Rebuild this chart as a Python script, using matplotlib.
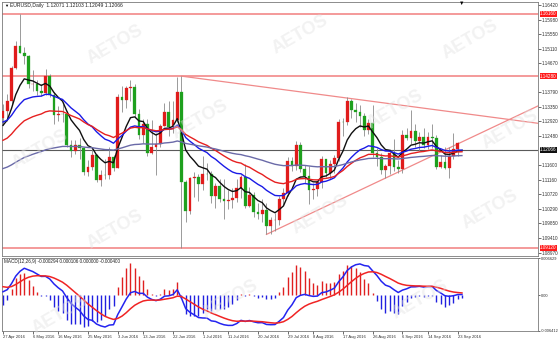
import numpy as np
import matplotlib.pyplot as plt
from matplotlib.transforms import blended_transform_factory

# EURUSD daily, 27 Apr 2016 .. 23 Sep 2016 (+ the bar just opened)
opens = [1.1301, 1.1322, 1.1352, 1.1453, 1.1518, 1.1498, 1.1488, 1.1404, 1.1404, 1.1383,
         1.1377, 1.1427, 1.1370, 1.1310, 1.1314, 1.1313, 1.1220, 1.1204, 1.1222, 1.1211,
         1.1141, 1.1154, 1.1190, 1.1116, 1.1132, 1.1131, 1.1186, 1.1153, 1.1366, 1.1356,
         1.1393, 1.1395, 1.1314, 1.1250, 1.1285, 1.1197, 1.1216, 1.1225, 1.1278, 1.1320,
         1.1274, 1.1297, 1.1380, 1.1111, 1.1022, 1.1121, 1.1124, 1.1103, 1.1135, 1.1134,
         1.1068, 1.1097, 1.1058, 1.1053, 1.1055, 1.1060, 1.1092, 1.1125, 1.1037, 1.1071,
         1.1019, 1.1014, 1.1026, 1.0976, 1.0995, 1.0995, 1.1059, 1.1077, 1.1172, 1.1159,
         1.1222, 1.1148, 1.1129, 1.1085, 1.1088, 1.1109, 1.1180, 1.1136, 1.1163, 1.1182,
         1.1290, 1.1289, 1.1352, 1.1326, 1.1319, 1.1307, 1.1265, 1.1287, 1.1197, 1.1184,
         1.1145, 1.1158, 1.1197, 1.1156, 1.1149, 1.1252, 1.1241, 1.1262, 1.1233, 1.1244,
         1.1222, 1.1245, 1.1243, 1.1155, 1.1170, 1.1151, 1.1188, 1.1210, 1.12071]
highs = [1.1344, 1.1375, 1.1460, 1.1535, 1.1616, 1.1517, 1.1491, 1.1446, 1.1417, 1.1404,
         1.1448, 1.1434, 1.1381, 1.1337, 1.1345, 1.1323, 1.1237, 1.1237, 1.1241, 1.1216,
         1.1175, 1.1211, 1.1195, 1.1147, 1.1179, 1.1216, 1.1190, 1.1374, 1.1397, 1.1398,
         1.1416, 1.1405, 1.1329, 1.1298, 1.1299, 1.1297, 1.1256, 1.1285, 1.1347, 1.1352,
         1.1353, 1.1425, 1.1427, 1.1115, 1.1125, 1.1139, 1.1135, 1.1187, 1.1168, 1.1144,
         1.1108, 1.1120, 1.1119, 1.1087, 1.1093, 1.1120, 1.1130, 1.1164, 1.1096, 1.1081,
         1.1046, 1.1058, 1.1045, 1.1004, 1.1016, 1.1067, 1.1091, 1.1186, 1.1185, 1.1234,
         1.1229, 1.1162, 1.1157, 1.1108, 1.1113, 1.1188, 1.1180, 1.1176, 1.1192, 1.1300,
         1.1301, 1.1366, 1.1360, 1.1346, 1.1341, 1.1317, 1.1300, 1.1342, 1.1212, 1.1196,
         1.1165, 1.1210, 1.1240, 1.1177, 1.1266, 1.1273, 1.1327, 1.1285, 1.1259, 1.1272,
         1.1259, 1.1283, 1.1250, 1.1191, 1.1214, 1.1215, 1.1257, 1.1229, 1.12103]
lows = [1.1282, 1.1293, 1.1345, 1.1448, 1.1497, 1.1464, 1.1393, 1.1383, 1.1372, 1.1367,
        1.1370, 1.1364, 1.1285, 1.1293, 1.1290, 1.1214, 1.1186, 1.1194, 1.1178, 1.1130,
        1.1128, 1.1146, 1.1110, 1.1099, 1.1120, 1.1120, 1.1143, 1.1152, 1.1319, 1.1332,
        1.1354, 1.1306, 1.1239, 1.1228, 1.1189, 1.1193, 1.1131, 1.1214, 1.1278, 1.1249,
        1.1257, 1.1290, 1.0912, 1.0990, 1.1012, 1.1063, 1.1052, 1.1085, 1.1115, 1.1045,
        1.1030, 1.1048, 1.0999, 1.1028, 1.1030, 1.1048, 1.1061, 1.1032, 1.1035, 1.1004,
        1.0998, 1.0989, 1.0953, 1.0952, 1.0962, 1.0980, 1.1041, 1.1066, 1.1144, 1.1146,
        1.1139, 1.1108, 1.1044, 1.1059, 1.1067, 1.1093, 1.1124, 1.1118, 1.1137, 1.1173,
        1.1247, 1.1281, 1.1301, 1.1291, 1.1276, 1.1247, 1.1253, 1.1185, 1.1157, 1.1133,
        1.1122, 1.1135, 1.1143, 1.1137, 1.1136, 1.1235, 1.1223, 1.1214, 1.1202, 1.1213,
        1.1209, 1.1213, 1.1150, 1.1153, 1.1148, 1.1123, 1.1180, 1.1189, 1.12049]
closes = [1.1322, 1.1352, 1.1453, 1.1518, 1.1498, 1.1488, 1.1404, 1.1404, 1.1383, 1.1377,
          1.1427, 1.1370, 1.1310, 1.1314, 1.1313, 1.1220, 1.1204, 1.1222, 1.1211, 1.1141,
          1.1154, 1.1190, 1.1116, 1.1132, 1.1131, 1.1186, 1.1153, 1.1366, 1.1356, 1.1393,
          1.1395, 1.1314, 1.1250, 1.1285, 1.1197, 1.1216, 1.1225, 1.1278, 1.1320, 1.1274,
          1.1297, 1.1380, 1.1111, 1.1022, 1.1121, 1.1124, 1.1103, 1.1135, 1.1134, 1.1068,
          1.1097, 1.1058, 1.1053, 1.1055, 1.1060, 1.1092, 1.1125, 1.1037, 1.1071, 1.1019,
          1.1014, 1.1026, 1.0976, 1.0995, 1.0995, 1.1059, 1.1077, 1.1172, 1.1159, 1.1222,
          1.1148, 1.1129, 1.1085, 1.1088, 1.1109, 1.1180, 1.1136, 1.1163, 1.1182, 1.1290,
          1.1289, 1.1352, 1.1326, 1.1319, 1.1307, 1.1265, 1.1287, 1.1197, 1.1184, 1.1145,
          1.1158, 1.1197, 1.1156, 1.1149, 1.1252, 1.1241, 1.1262, 1.1233, 1.1244, 1.1222,
          1.1245, 1.1243, 1.1155, 1.1170, 1.1151, 1.1188, 1.1210, 1.1226, 1.12066]

date_pos = [0, 7, 13, 20, 27, 33, 40, 47, 53, 60, 67, 73, 80, 87, 94, 100, 107]
date_labels = ['27 Apr 2016', '6 May 2016', '16 May 2016', '25 May 2016', '3 Jun 2016',
               '13 Jun 2016', '22 Jun 2016', '1 Jul 2016', '11 Jul 2016', '20 Jul 2016',
               '29 Jul 2016', '8 Aug 2016', '17 Aug 2016', '26 Aug 2016', '6 Sep 2016',
               '14 Sep 2016', '23 Sep 2016']

price_ticks = [1.16420, 1.15980, 1.15550, 1.15110, 1.14670, 1.13790, 1.13350, 1.12920,
               1.12480, 1.11600, 1.11160, 1.10720, 1.10290, 1.09850, 1.09410, 1.08970]
levels = [1.16160, 1.14280, 1.09120]
last_price = 1.12066

# trend lines (bar index, price)
down_bars = [42, 126]
down_prices = [1.1428, 1.1286]
up_bars = [62, 126]
up_prices = [1.0952, 1.1339]

# moving average periods and their values at the first bar
ma_periods = [8, 21, 34, 89]
ma_start = [1.1280, 1.1290, 1.1235, 1.1150]
ma_colors = ['#101010', '#1a1ae6', '#e62020', '#6a6aa8']

macd_ticks = [0.006629, 0.0, -0.006412]
macd_tick_labels = ['0.006629', '0.00', '-0.006412']
ema12_start, ema26_start, signal_start = 1.1300, 1.1294, 0.0015
hist_scale = 2.0   # the indicator draws its histogram larger than the lines


def ema(vals, n, start):
    k = 2.0 / (n + 1)
    out = [start]
    for v in vals[1:]:
        out.append(out[-1] + k * (v - out[-1]))
    return np.array(out)


plt.rcParams['font.family'] = ['Liberation Sans', 'DejaVu Sans']
W, H = 560, 340
fig = plt.figure(figsize=(5.6, 3.4), dpi=100)


def px(l, t, r, b):
    return [l / W, 1 - b / H, (r - l) / W, (b - t) / H]


ax = fig.add_axes(px(2, 2, 538, 256))
ax2 = fig.add_axes(px(2, 258, 538, 331))

o = np.array(opens)
h = np.array(highs)
lo = np.array(lows)
c = np.array(closes)
x = np.arange(len(c))

# candles
ax.vlines(x, lo, h, color='#8a8a8a', lw=0.6, zorder=3)
up = c >= o
cols = np.where(up, '#e01c1c', '#1ea01e')
bottom = np.minimum(o, c)
height = np.maximum(np.abs(c - o), 0.00005)
ax.bar(x, height, bottom=bottom, width=0.62, color=cols, edgecolor=cols, lw=0.2, zorder=4)

for p, col, s in zip(ma_periods, ma_colors, ma_start):
    ax.plot(x, ema(c, p, s), color=col, lw=1.0, zorder=5)

for lvl in levels:
    ax.axhline(lvl, color='#f49a9a', lw=1.4, zorder=2)
ax.axhline(last_price, color='#5a5a5a', lw=0.8, zorder=2)
ax.plot(down_bars, down_prices, color='#f08a8a', lw=0.9, zorder=2)
ax.plot(up_bars, up_prices, color='#f08a8a', lw=0.9, zorder=2)

ax.set_xlim(-0.24, 125.9)
ax.set_ylim(1.0887, 1.1651)
ax.set_xticks([])
ax.yaxis.tick_right()
ax.set_yticks(price_ticks)
ax.set_yticklabels(['%.5f' % t for t in price_ticks], fontsize=3.3)
ax.tick_params(axis='y', length=2, width=0.5, pad=1, colors='#303030')

trans = blended_transform_factory(ax.transAxes, ax.transData)
for lvl in levels:
    ax.text(1.004, lvl, '%.5f' % lvl, transform=trans, fontsize=3.3, color='white',
            va='center', ha='left', clip_on=False, zorder=10,
            bbox=dict(boxstyle='square,pad=0.12', fc='#ff1a1a', ec='none'))
ax.text(1.004, last_price, '%.5f' % last_price, transform=trans, fontsize=3.3, color='white',
        va='center', ha='left', clip_on=False, zorder=10,
        bbox=dict(boxstyle='square,pad=0.12', fc='#101010', ec='none'))

# MACD
e12 = ema(c, 12, ema12_start)
e26 = ema(c, 26, ema26_start)
macd = e12 - e26
signal = ema(macd, 9, signal_start)
hist = (macd - signal) * hist_scale
hcols = np.where(hist >= 0, '#e02020', '#2020e0')
ax2.vlines(x, 0, hist, colors=hcols, lw=1.0, zorder=2)
ax2.plot(x, macd, color='#2424f0', lw=1.1, zorder=3)
ax2.plot(x, signal, color='#f02424', lw=1.1, zorder=3)
ax2.set_xlim(-0.24, 125.9)
ax2.set_ylim(-0.006412, 0.006629)
ax2.yaxis.tick_right()
ax2.set_yticks(macd_ticks)
ax2.set_yticklabels(macd_tick_labels, fontsize=2.9)
ax2.tick_params(axis='y', length=1.5, width=0.5, pad=0.5, colors='#303030')
ax2.set_xticks(date_pos)
ax2.set_xticklabels(date_labels, fontsize=3.0, ha='left')
ax2.tick_params(axis='x', length=2, width=0.5, pad=1, colors='#303030')

for a in (ax, ax2):
    for s in a.spines.values():
        s.set_color('#7a7a7a')
        s.set_linewidth(0.6)

fig.text(4 / W, 1 - 6 / H, '\u25bc', fontsize=3, va='center')
fig.text(10 / W, 1 - 6 / H, 'EURUSD,Daily  1.12071 1.12103 1.12049 1.12066',
         fontsize=3.6, va='center', color='#202020')
fig.text(4 / W, 1 - 262 / H, 'MACD(12,26,9) -0.000294 0.000106 0.000000 -0.000400',
         fontsize=3.3, va='center', color='#202020')
fig.text(462 / W, 1 - 3 / H, '\u25bc', fontsize=4, ha='center', va='center')

# watermark
wm = [(115, 45), (300, 35), (470, 40), (200, 120), (395, 110), (40, 150), (510, 130),
      (115, 230), (320, 215), (490, 210), (230, 300), (420, 300), (60, 315)]
for wx, wy in wm:
    fig.text(wx / W, 1 - wy / H, 'AETOS', fontsize=13, fontweight='bold', rotation=30,
             color='#e2e2e2', alpha=0.45, ha='center', va='center', zorder=0.5)

fig.savefig('out.png', dpi=100, facecolor='white')
